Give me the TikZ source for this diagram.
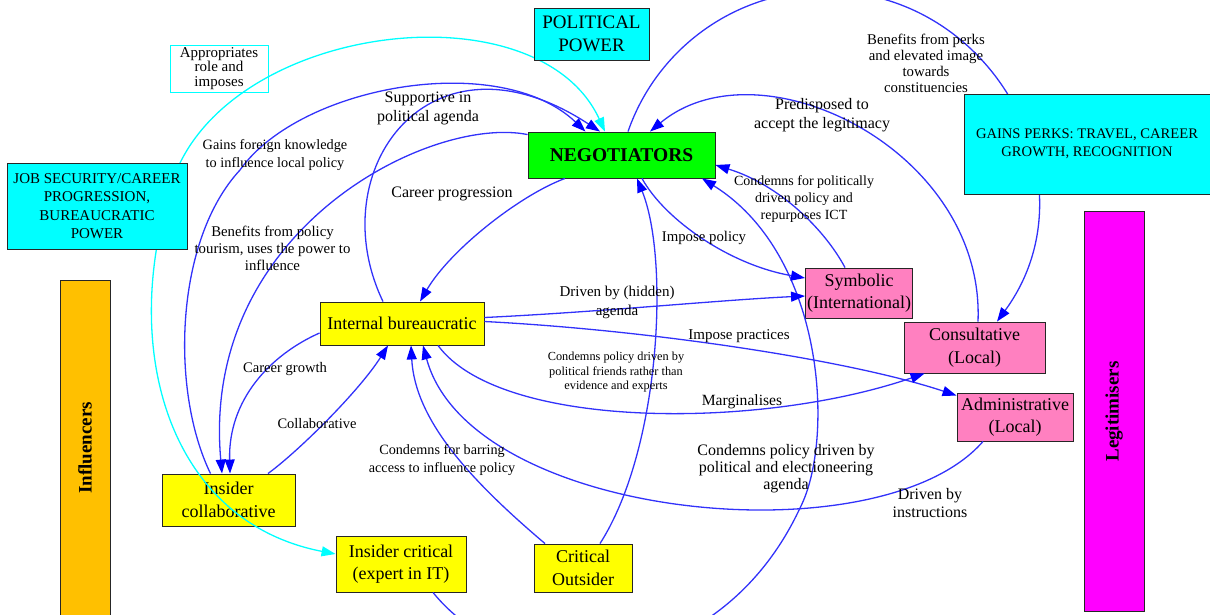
\documentclass[tikz,border=0pt]{standalone}
\usepackage{fontspec}
\setmainfont{Liberation Serif}
\usetikzlibrary{arrows.meta,calc,positioning}
\newcommand{\fsz}[2]{\fontsize{#1}{#2}\selectfont}
\definecolor{linkblue}{RGB}{50,50,250}
\definecolor{tipblue}{RGB}{0,0,255}
\definecolor{aqua}{RGB}{0,255,255}
\definecolor{lime}{RGB}{0,255,0}
\definecolor{lemon}{RGB}{255,255,0}
\definecolor{fuchsia}{RGB}{255,0,255}
\definecolor{pinkbox}{RGB}{255,128,192}
\definecolor{orangebox}{RGB}{255,192,0}

\begin{document}
\begin{tikzpicture}[x=1pt,y=-1pt,
    box/.style={draw=black!85,line width=0.9pt,align=center,inner sep=0pt},
    actor/.style={box,fill=lemon,font=\fsz{18}{22.5}},
    lead/.style={box,fill=lime,font=\bfseries\fsz{19.5}{22}},
    legit/.style={box,fill=pinkbox,font=\fsz{18}{22.5}},
    power/.style={box,fill=aqua,font=\fsz{15}{18.3}},
    band/.style={box,font=\bfseries\fsz{19}{22}},
    lbl/.style={align=center,inner sep=0pt,font=\fsz{14.8}{17}},
    link/.style={draw=linkblue,line width=1.3pt,-{Triangle[length=14pt,width=10pt,color=tipblue]}},
    hint/.style={draw=aqua,line width=1.3pt,{Triangle[length=14pt,width=10pt]}-{Triangle[length=14pt,width=10pt]}}]
	\useasboundingbox (0,0) rectangle (1210,614);
	\node[lead,minimum width=187,minimum height=46] (neg) at (621.5,155) {NEGOTIATORS};
	\node[actor,minimum width=164,minimum height=43] (ib) at (402,323.5) {Internal bureaucratic};
	\node[actor,minimum width=133,minimum height=52] (ico) at (228.5,500) {Insider\\collaborative};
	\node[actor,minimum width=130,minimum height=56] (icr) at (401,564) {Insider critical\\(expert in IT)};
	\node[actor,minimum width=98,minimum height=48] (cou) at (583,568) {Critical\\Outsider};
	\node[legit,minimum width=107,minimum height=50] (sym) at (859,293) {Symbolic\\(International)};
	\node[legit,minimum width=141,minimum height=51] (con) at (974.5,347.5) {Consultative\\(Local)};
	\node[legit,minimum width=116,minimum height=48] (adm) at (1015,417) {Administrative\\(Local)};
	\node[band,fill=orangebox,minimum width=50,minimum height=336] (inf) at (85,448) {\rotatebox{90}{Influencers}};
	\node[band,fill=fuchsia,minimum width=60,minimum height=400] (leg) at (1114,411.5) {\rotatebox{90}{Legitimisers}};
	%
	\draw[link] ([xshift=-18pt]ico.north) .. controls (170,390) and (175,240) .. (240,170)
		.. controls (300,85) and (500,50) .. ([xshift=-36pt]neg.north);
	\draw[link] ([xshift=-19pt]ib.north) .. controls (320,170) and (430,20) .. ([xshift=-21.5pt]neg.north);
	\draw[link] ([yshift=-3pt]neg.north west) .. controls (430,115) and (200,230) .. ([xshift=-6.5pt]ico.north);
	\draw[link] ([xshift=-56.5pt]neg.south) .. controls (520,195) and (450,250) .. ([xshift=18pt]ib.north);
	\draw[link] ([yshift=-9.5pt]ib.west) .. controls (270,355) and (228,400) .. ([xshift=1.5pt]ico.north);
	\draw[link] ([xshift=39.5pt]ico.north) .. controls (300,450) and (360,390) .. ([xshift=-14pt]ib.south);
	\draw[link] ([xshift=-38pt]cou.north) .. controls (470,480) and (415,420) .. ([xshift=9pt]ib.south);
	\draw[link] ([xshift=-32pt]adm.south) .. controls (880,560) and (470,520) .. ([xshift=21pt]ib.south);
	\draw[link] ([xshift=32pt]icr.south) .. controls (520,700) and (720,680) .. (800,508)
		.. controls (835,440) and (825,255) .. ([xshift=80.5pt]neg.south);
	\draw[link] ([xshift=17pt]cou.north) .. controls (660,450) and (670,260) .. ([xshift=15.5pt]neg.south);
	\draw[link] ([xshift=20.5pt]neg.south) .. controls (665,220) and (730,265) .. ([yshift=15pt]sym.west);
	\draw[link] ([xshift=-14pt]sym.north) .. controls (825,230) and (780,185) .. ([yshift=-10pt]neg.east);
	\draw[link] ([yshift=6pt]ib.east) .. controls (600,312) and (720,300) .. ([yshift=-3pt]sym.west);
	\draw[link] ([yshift=2pt]ib.east) .. controls (650,330) and (850,360) .. ([yshift=-3pt]adm.north west);
	\draw[link] ([xshift=36pt]ib.south) .. controls (500,430) and (760,430) .. ([xshift=21pt]con.south west);
	\draw[link] ([xshift=3.5pt]con.north) .. controls (985,150) and (760,40) .. ([xshift=28.5pt]neg.north);
	\draw[link] ([xshift=6.5pt]neg.north) .. controls (657,48) and (736,-9) .. (825,-9)
		.. controls (995,-9) and (1097,185) .. ([xshift=22.5pt]con.north);
	\draw[hint] ([xshift=-16.5pt]neg.north) .. controls (540,-10) and (250,20) .. (180,163)
		.. controls (115,330) and (160,520) .. ([yshift=10pt]icr.west);
	%
	\node[power,minimum width=180,minimum height=86] (job) at (97,206) {JOB SECURITY/CAREER\\PROGRESSION,\\BUREAUCRATIC\\POWER};
	\node[power,font=\fsz{14.6}{18},minimum width=246,minimum height=100] (perk) at (1087,144) {GAINS PERKS: TRAVEL, CAREER\\GROWTH, RECOGNITION};
	\node[power,font=\fsz{19}{23},minimum width=115,minimum height=52] (pol) at (591.5,34) {POLITICAL\\POWER};
	\node[draw=aqua,line width=0.9pt,align=center,inner sep=0pt,minimum width=98,minimum height=47,font=\fsz{15}{14.5}] (apr) at (219,68.5) {Appropriates\\role and\\imposes};
	%
	\node[lbl,font=\fsz{16}{19}] (tsup) at (428,108.5) {Supportive in\\political agenda};
	\node[lbl,font=\fsz{14.3}{18}] (tgai) at (275,155) {Gains foreign knowledge\\to influence local policy};
	\node[lbl,font=\fsz{16}{19}] (tcpr) at (452,194) {Career progression};
	\node[lbl] (tben) at (272.5,248) {Benefits from policy\\tourism, uses the power to\\influence};
	\node[lbl,font=\fsz{16}{19}] (tpre) at (822,115.5) {Predisposed to\\accept the legitimacy};
	\node[lbl,font=\fsz{14.8}{16}] (tper) at (926,63) {Benefits from perks\\and elevated image\\towards\\constituencies};
	\node[lbl,font=\fsz{14}{17}] (tpol) at (804,199) {Condemns for politically\\driven policy and\\repurposes ICT};
	\node[lbl] (timp) at (704,238) {Impose policy};
	\node[lbl,font=\fsz{15}{19}] (tdri) at (617,302.5) {Driven by (hidden)\\agenda};
	\node[lbl,font=\fsz{15}{17}] (tipr) at (739,336) {Impose practices};
	\node[lbl,font=\fsz{12.3}{14.5}] (tfri) at (616,372.5) {Condemns policy driven by\\political friends rather than\\evidence and experts};
	\node[lbl,font=\fsz{15.6}{18}] (tmar) at (742,402) {Marginalises};
	\node[lbl,font=\fsz{16}{17}] (tele) at (786,468.5) {Condemns policy driven by\\political and electioneering\\agenda};
	\node[lbl,font=\fsz{16}{18}] (tins) at (930,503) {Driven by\\instructions};
	\node[lbl,font=\fsz{14.6}{17}] (tcgr) at (285,369) {Career growth};
	\node[lbl,font=\fsz{14.5}{17}] (tcol) at (317,424) {Collaborative};
	\node[lbl,font=\fsz{14.2}{18}] (tbar) at (442,460) {Condemns for barring\\access to influence policy};
\end{tikzpicture}
\end{document}
